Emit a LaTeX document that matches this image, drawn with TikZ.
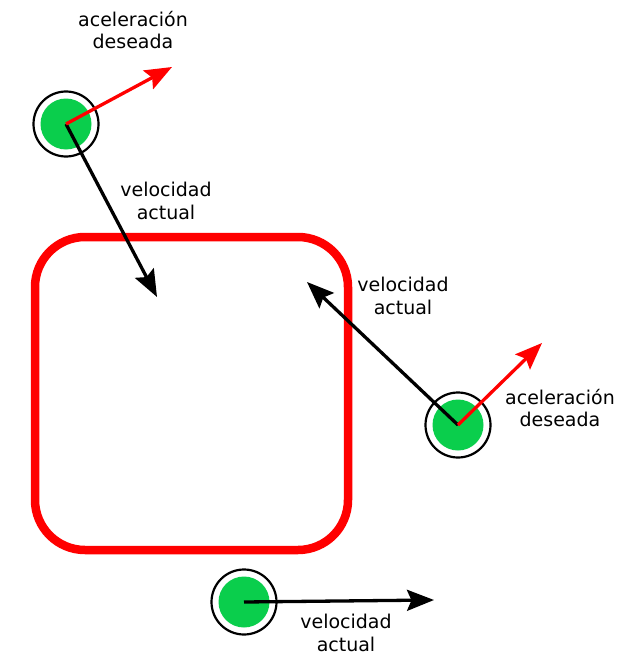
\documentclass[tikz,border=0pt]{standalone}
\usepackage{fontspec}
\setmainfont{DejaVu Sans}
\usetikzlibrary{arrows.meta}
\definecolor{ballgreen}{RGB}{10,206,76}
\tikzset{
  ball/.style={circle, draw=black, line width=2.2pt, fill=white, minimum size=65pt, inner sep=0pt},
  core/.style={circle, fill=ballgreen, minimum size=51pt, inner sep=0pt},
  tipshape/.style={-{Stealth[length=27pt, width=21pt, inset=4.5pt]}},
  vel/.style={draw=black, line width=3.3pt, tipshape},
  acc/.style={draw=red, line width=3.3pt, tipshape},
  lbl/.style={align=center, font=\fontsize{19}{22.5}\selectfont, inner sep=0pt},
  wall/.style={draw=red, line width=8.5pt, rounded corners=50pt}
}
\begin{document}
\begin{tikzpicture}[x=1pt, y=-1pt]
\useasboundingbox (0,0) rectangle (625,669);
\draw[wall] (35,237) rectangle (348,550);
% ball 1
\node[ball] (b1) at (66,124) {};
\node[core] (g1) at (66,124) {};
\coordinate (v1) at (157,297);
\coordinate (a1) at (172,67);
\draw[vel] (b1.center) -- (v1);
\draw[acc] (b1.center) -- (a1);
% ball 2
\node[ball] (b2) at (458,425) {};
\node[core] (g2) at (458,425) {};
\coordinate (v2) at (307,282);
\coordinate (a2) at (542,343);
\draw[vel] (b2.center) -- (v2);
\draw[acc] (b2.center) -- (a2);
% ball 3
\node[ball] (b3) at (244,602) {};
\node[core] (g3) at (244,602) {};
\coordinate (v3) at (434,600);
\draw[vel] (b3.center) -- (v3);
% labels
\node[lbl] (t1) at (133,30) {aceleración\\deseada};
\node[lbl] (t2) at (166,201) {velocidad\\actual};
\node[lbl] (t3) at (403,296) {velocidad\\actual};
\node[lbl] (t4) at (560,408) {aceleración\\deseada};
\node[lbl] (t5) at (346,633) {velocidad\\actual};
\end{tikzpicture}
\end{document}
